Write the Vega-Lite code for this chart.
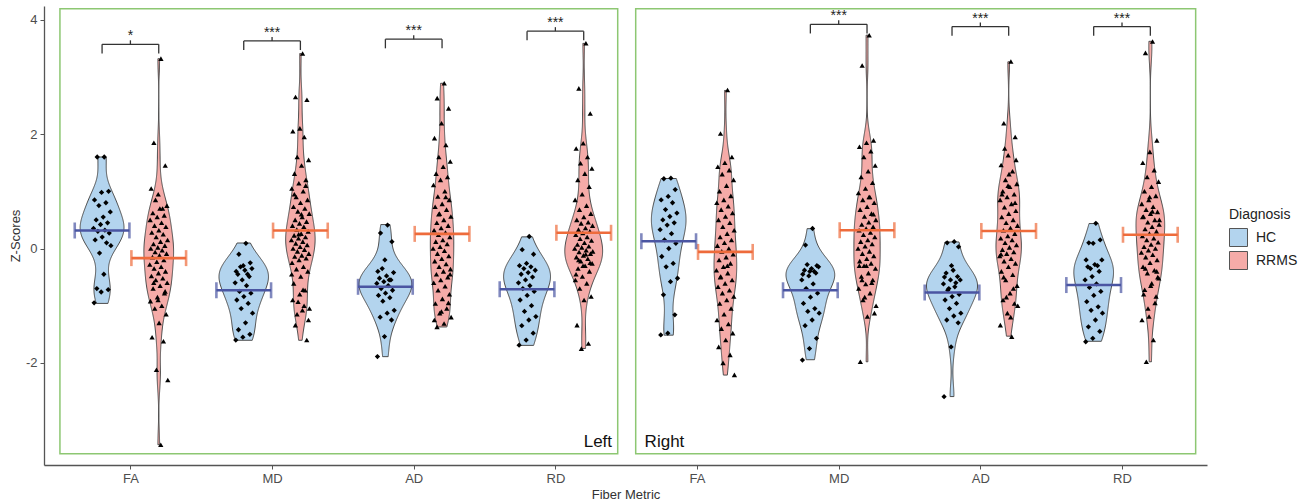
{
"$schema":"https://vega.github.io/schema/vega-lite/v6.json",
"width":1163,"height":459,
"autosize":{"type":"none"},
"padding":{"left":44,"top":6,"right":100,"bottom":38},
"background":"white",
"datasets":{
"brackets":[
{"side":"Left","metric":"FA","yb":3.57,"label":"*"},
{"side":"Left","metric":"MD","yb":3.63,"label":"***"},
{"side":"Left","metric":"AD","yb":3.66,"label":"***"},
{"side":"Left","metric":"RD","yb":3.8,"label":"***"},
{"side":"Right","metric":"MD","yb":3.92,"label":"***"},
{"side":"Right","metric":"AD","yb":3.88,"label":"***"},
{"side":"Right","metric":"RD","yb":3.88,"label":"***"}
]},
"data":{"values":[
{"side":"Left","metric":"FA","dx":"HC","z":1.6},{"side":"Left","metric":"FA","dx":"HC","z":1.6},{"side":"Left","metric":"FA","dx":"HC","z":1.0},{"side":"Left","metric":"FA","dx":"HC","z":0.98},{"side":"Left","metric":"FA","dx":"HC","z":0.85},{"side":"Left","metric":"FA","dx":"HC","z":0.8},{"side":"Left","metric":"FA","dx":"HC","z":0.75},{"side":"Left","metric":"FA","dx":"HC","z":0.64},{"side":"Left","metric":"FA","dx":"HC","z":0.55},{"side":"Left","metric":"FA","dx":"HC","z":0.5},{"side":"Left","metric":"FA","dx":"HC","z":0.45},{"side":"Left","metric":"FA","dx":"HC","z":0.42},{"side":"Left","metric":"FA","dx":"HC","z":0.35},{"side":"Left","metric":"FA","dx":"HC","z":0.32},{"side":"Left","metric":"FA","dx":"HC","z":0.3},{"side":"Left","metric":"FA","dx":"HC","z":0.27},{"side":"Left","metric":"FA","dx":"HC","z":0.2},{"side":"Left","metric":"FA","dx":"HC","z":0.15},{"side":"Left","metric":"FA","dx":"HC","z":0.1},{"side":"Left","metric":"FA","dx":"HC","z":-0.08},{"side":"Left","metric":"FA","dx":"HC","z":0.05},{"side":"Left","metric":"FA","dx":"HC","z":-0.45},{"side":"Left","metric":"FA","dx":"HC","z":-0.7},{"side":"Left","metric":"FA","dx":"HC","z":-0.72},{"side":"Left","metric":"FA","dx":"HC","z":-0.76},{"side":"Left","metric":"FA","dx":"HC","z":-0.95},
{"side":"Left","metric":"FA","dx":"RRMS","z":3.32},{"side":"Left","metric":"FA","dx":"RRMS","z":1.85},{"side":"Left","metric":"FA","dx":"RRMS","z":1.45},{"side":"Left","metric":"FA","dx":"RRMS","z":0.95},{"side":"Left","metric":"FA","dx":"RRMS","z":1.05},{"side":"Left","metric":"FA","dx":"RRMS","z":0.7},{"side":"Left","metric":"FA","dx":"RRMS","z":0.85},{"side":"Left","metric":"FA","dx":"RRMS","z":0.75},{"side":"Left","metric":"FA","dx":"RRMS","z":0.7},{"side":"Left","metric":"FA","dx":"RRMS","z":0.62},{"side":"Left","metric":"FA","dx":"RRMS","z":0.58},{"side":"Left","metric":"FA","dx":"RRMS","z":0.55},{"side":"Left","metric":"FA","dx":"RRMS","z":0.5},{"side":"Left","metric":"FA","dx":"RRMS","z":0.45},{"side":"Left","metric":"FA","dx":"RRMS","z":0.4},{"side":"Left","metric":"FA","dx":"RRMS","z":0.38},{"side":"Left","metric":"FA","dx":"RRMS","z":0.32},{"side":"Left","metric":"FA","dx":"RRMS","z":0.28},{"side":"Left","metric":"FA","dx":"RRMS","z":0.25},{"side":"Left","metric":"FA","dx":"RRMS","z":0.2},{"side":"Left","metric":"FA","dx":"RRMS","z":0.15},{"side":"Left","metric":"FA","dx":"RRMS","z":0.12},{"side":"Left","metric":"FA","dx":"RRMS","z":0.08},{"side":"Left","metric":"FA","dx":"RRMS","z":0.05},{"side":"Left","metric":"FA","dx":"RRMS","z":0.02},{"side":"Left","metric":"FA","dx":"RRMS","z":0.0},{"side":"Left","metric":"FA","dx":"RRMS","z":-0.03},{"side":"Left","metric":"FA","dx":"RRMS","z":-0.06},{"side":"Left","metric":"FA","dx":"RRMS","z":-0.09},{"side":"Left","metric":"FA","dx":"RRMS","z":-0.12},{"side":"Left","metric":"FA","dx":"RRMS","z":-0.15},{"side":"Left","metric":"FA","dx":"RRMS","z":-0.2},{"side":"Left","metric":"FA","dx":"RRMS","z":-0.23},{"side":"Left","metric":"FA","dx":"RRMS","z":-0.28},{"side":"Left","metric":"FA","dx":"RRMS","z":-0.32},{"side":"Left","metric":"FA","dx":"RRMS","z":-0.35},{"side":"Left","metric":"FA","dx":"RRMS","z":-0.4},{"side":"Left","metric":"FA","dx":"RRMS","z":-0.43},{"side":"Left","metric":"FA","dx":"RRMS","z":-0.48},{"side":"Left","metric":"FA","dx":"RRMS","z":-0.52},{"side":"Left","metric":"FA","dx":"RRMS","z":-0.55},{"side":"Left","metric":"FA","dx":"RRMS","z":-0.6},{"side":"Left","metric":"FA","dx":"RRMS","z":-0.65},{"side":"Left","metric":"FA","dx":"RRMS","z":-0.7},{"side":"Left","metric":"FA","dx":"RRMS","z":-0.78},{"side":"Left","metric":"FA","dx":"RRMS","z":-0.85},{"side":"Left","metric":"FA","dx":"RRMS","z":-0.92},{"side":"Left","metric":"FA","dx":"RRMS","z":-1.0},{"side":"Left","metric":"FA","dx":"RRMS","z":-1.05},{"side":"Left","metric":"FA","dx":"RRMS","z":-1.15},{"side":"Left","metric":"FA","dx":"RRMS","z":-1.3},{"side":"Left","metric":"FA","dx":"RRMS","z":-1.55},{"side":"Left","metric":"FA","dx":"RRMS","z":-1.62},{"side":"Left","metric":"FA","dx":"RRMS","z":-2.12},{"side":"Left","metric":"FA","dx":"RRMS","z":-2.3},{"side":"Left","metric":"FA","dx":"RRMS","z":-3.43},{"side":"Left","metric":"FA","dx":"RRMS","z":-0.6},{"side":"Left","metric":"FA","dx":"RRMS","z":-0.75},{"side":"Left","metric":"FA","dx":"RRMS","z":-0.9},
{"side":"Left","metric":"MD","dx":"HC","z":0.09},{"side":"Left","metric":"MD","dx":"HC","z":-0.1},{"side":"Left","metric":"MD","dx":"HC","z":-0.25},{"side":"Left","metric":"MD","dx":"HC","z":-0.3},{"side":"Left","metric":"MD","dx":"HC","z":-0.4},{"side":"Left","metric":"MD","dx":"HC","z":-0.45},{"side":"Left","metric":"MD","dx":"HC","z":-0.32},{"side":"Left","metric":"MD","dx":"HC","z":-0.35},{"side":"Left","metric":"MD","dx":"HC","z":-0.38},{"side":"Left","metric":"MD","dx":"HC","z":-0.45},{"side":"Left","metric":"MD","dx":"HC","z":-0.49},{"side":"Left","metric":"MD","dx":"HC","z":-0.55},{"side":"Left","metric":"MD","dx":"HC","z":-0.6},{"side":"Left","metric":"MD","dx":"HC","z":-0.65},{"side":"Left","metric":"MD","dx":"HC","z":-0.75},{"side":"Left","metric":"MD","dx":"HC","z":-0.78},{"side":"Left","metric":"MD","dx":"HC","z":-0.84},{"side":"Left","metric":"MD","dx":"HC","z":-0.9},{"side":"Left","metric":"MD","dx":"HC","z":-0.96},{"side":"Left","metric":"MD","dx":"HC","z":-1.05},{"side":"Left","metric":"MD","dx":"HC","z":-1.13},{"side":"Left","metric":"MD","dx":"HC","z":-1.3},{"side":"Left","metric":"MD","dx":"HC","z":-1.42},{"side":"Left","metric":"MD","dx":"HC","z":-1.5},{"side":"Left","metric":"MD","dx":"HC","z":-1.55},{"side":"Left","metric":"MD","dx":"HC","z":-1.6},
{"side":"Left","metric":"MD","dx":"RRMS","z":3.41},{"side":"Left","metric":"MD","dx":"RRMS","z":2.65},{"side":"Left","metric":"MD","dx":"RRMS","z":2.6},{"side":"Left","metric":"MD","dx":"RRMS","z":2.1},{"side":"Left","metric":"MD","dx":"RRMS","z":2.05},{"side":"Left","metric":"MD","dx":"RRMS","z":1.95},{"side":"Left","metric":"MD","dx":"RRMS","z":1.6},{"side":"Left","metric":"MD","dx":"RRMS","z":1.55},{"side":"Left","metric":"MD","dx":"RRMS","z":1.45},{"side":"Left","metric":"MD","dx":"RRMS","z":1.31},{"side":"Left","metric":"MD","dx":"RRMS","z":1.2},{"side":"Left","metric":"MD","dx":"RRMS","z":1.14},{"side":"Left","metric":"MD","dx":"RRMS","z":1.05},{"side":"Left","metric":"MD","dx":"RRMS","z":1.0},{"side":"Left","metric":"MD","dx":"RRMS","z":0.9},{"side":"Left","metric":"MD","dx":"RRMS","z":0.85},{"side":"Left","metric":"MD","dx":"RRMS","z":0.8},{"side":"Left","metric":"MD","dx":"RRMS","z":0.73},{"side":"Left","metric":"MD","dx":"RRMS","z":0.7},{"side":"Left","metric":"MD","dx":"RRMS","z":0.65},{"side":"Left","metric":"MD","dx":"RRMS","z":0.61},{"side":"Left","metric":"MD","dx":"RRMS","z":0.55},{"side":"Left","metric":"MD","dx":"RRMS","z":0.5},{"side":"Left","metric":"MD","dx":"RRMS","z":0.47},{"side":"Left","metric":"MD","dx":"RRMS","z":0.44},{"side":"Left","metric":"MD","dx":"RRMS","z":0.4},{"side":"Left","metric":"MD","dx":"RRMS","z":0.38},{"side":"Left","metric":"MD","dx":"RRMS","z":0.33},{"side":"Left","metric":"MD","dx":"RRMS","z":0.3},{"side":"Left","metric":"MD","dx":"RRMS","z":0.26},{"side":"Left","metric":"MD","dx":"RRMS","z":0.23},{"side":"Left","metric":"MD","dx":"RRMS","z":0.2},{"side":"Left","metric":"MD","dx":"RRMS","z":0.18},{"side":"Left","metric":"MD","dx":"RRMS","z":0.15},{"side":"Left","metric":"MD","dx":"RRMS","z":0.12},{"side":"Left","metric":"MD","dx":"RRMS","z":0.09},{"side":"Left","metric":"MD","dx":"RRMS","z":0.06},{"side":"Left","metric":"MD","dx":"RRMS","z":0.03},{"side":"Left","metric":"MD","dx":"RRMS","z":0.0},{"side":"Left","metric":"MD","dx":"RRMS","z":-0.02},{"side":"Left","metric":"MD","dx":"RRMS","z":-0.05},{"side":"Left","metric":"MD","dx":"RRMS","z":-0.09},{"side":"Left","metric":"MD","dx":"RRMS","z":-0.12},{"side":"Left","metric":"MD","dx":"RRMS","z":-0.14},{"side":"Left","metric":"MD","dx":"RRMS","z":-0.17},{"side":"Left","metric":"MD","dx":"RRMS","z":-0.2},{"side":"Left","metric":"MD","dx":"RRMS","z":-0.25},{"side":"Left","metric":"MD","dx":"RRMS","z":-0.32},{"side":"Left","metric":"MD","dx":"RRMS","z":-0.36},{"side":"Left","metric":"MD","dx":"RRMS","z":-0.4},{"side":"Left","metric":"MD","dx":"RRMS","z":-0.49},{"side":"Left","metric":"MD","dx":"RRMS","z":-0.61},{"side":"Left","metric":"MD","dx":"RRMS","z":-0.73},{"side":"Left","metric":"MD","dx":"RRMS","z":-0.93},{"side":"Left","metric":"MD","dx":"RRMS","z":-1.05},{"side":"Left","metric":"MD","dx":"RRMS","z":-1.08},{"side":"Left","metric":"MD","dx":"RRMS","z":-1.34},{"side":"Left","metric":"MD","dx":"RRMS","z":-1.6},{"side":"Left","metric":"MD","dx":"RRMS","z":-0.8},{"side":"Left","metric":"MD","dx":"RRMS","z":-0.9},{"side":"Left","metric":"MD","dx":"RRMS","z":-1.0},{"side":"Left","metric":"MD","dx":"RRMS","z":-1.15},{"side":"Left","metric":"MD","dx":"RRMS","z":-1.25},{"side":"Left","metric":"MD","dx":"RRMS","z":0.6},{"side":"Left","metric":"MD","dx":"RRMS","z":0.95},{"side":"Left","metric":"MD","dx":"RRMS","z":1.1},{"side":"Left","metric":"MD","dx":"RRMS","z":0.25},{"side":"Left","metric":"MD","dx":"RRMS","z":-0.45},{"side":"Left","metric":"MD","dx":"RRMS","z":-0.72},
{"side":"Left","metric":"AD","dx":"HC","z":0.41},{"side":"Left","metric":"AD","dx":"HC","z":0.27},{"side":"Left","metric":"AD","dx":"HC","z":0.12},{"side":"Left","metric":"AD","dx":"HC","z":-0.2},{"side":"Left","metric":"AD","dx":"HC","z":-0.4},{"side":"Left","metric":"AD","dx":"HC","z":-0.55},{"side":"Left","metric":"AD","dx":"HC","z":-0.35},{"side":"Left","metric":"AD","dx":"HC","z":-0.42},{"side":"Left","metric":"AD","dx":"HC","z":-0.48},{"side":"Left","metric":"AD","dx":"HC","z":-0.52},{"side":"Left","metric":"AD","dx":"HC","z":-0.55},{"side":"Left","metric":"AD","dx":"HC","z":-0.58},{"side":"Left","metric":"AD","dx":"HC","z":-0.61},{"side":"Left","metric":"AD","dx":"HC","z":-0.65},{"side":"Left","metric":"AD","dx":"HC","z":-0.7},{"side":"Left","metric":"AD","dx":"HC","z":-0.73},{"side":"Left","metric":"AD","dx":"HC","z":-0.78},{"side":"Left","metric":"AD","dx":"HC","z":-0.82},{"side":"Left","metric":"AD","dx":"HC","z":-0.86},{"side":"Left","metric":"AD","dx":"HC","z":-0.92},{"side":"Left","metric":"AD","dx":"HC","z":-1.08},{"side":"Left","metric":"AD","dx":"HC","z":-1.13},{"side":"Left","metric":"AD","dx":"HC","z":-1.2},{"side":"Left","metric":"AD","dx":"HC","z":-1.25},{"side":"Left","metric":"AD","dx":"HC","z":-1.54},{"side":"Left","metric":"AD","dx":"HC","z":-1.89},
{"side":"Left","metric":"AD","dx":"RRMS","z":2.89},{"side":"Left","metric":"AD","dx":"RRMS","z":2.63},{"side":"Left","metric":"AD","dx":"RRMS","z":2.45},{"side":"Left","metric":"AD","dx":"RRMS","z":2.19},{"side":"Left","metric":"AD","dx":"RRMS","z":1.93},{"side":"Left","metric":"AD","dx":"RRMS","z":1.81},{"side":"Left","metric":"AD","dx":"RRMS","z":1.6},{"side":"Left","metric":"AD","dx":"RRMS","z":1.52},{"side":"Left","metric":"AD","dx":"RRMS","z":1.43},{"side":"Left","metric":"AD","dx":"RRMS","z":1.31},{"side":"Left","metric":"AD","dx":"RRMS","z":1.25},{"side":"Left","metric":"AD","dx":"RRMS","z":1.2},{"side":"Left","metric":"AD","dx":"RRMS","z":1.11},{"side":"Left","metric":"AD","dx":"RRMS","z":1.0},{"side":"Left","metric":"AD","dx":"RRMS","z":0.91},{"side":"Left","metric":"AD","dx":"RRMS","z":0.85},{"side":"Left","metric":"AD","dx":"RRMS","z":0.78},{"side":"Left","metric":"AD","dx":"RRMS","z":0.73},{"side":"Left","metric":"AD","dx":"RRMS","z":0.68},{"side":"Left","metric":"AD","dx":"RRMS","z":0.61},{"side":"Left","metric":"AD","dx":"RRMS","z":0.56},{"side":"Left","metric":"AD","dx":"RRMS","z":0.5},{"side":"Left","metric":"AD","dx":"RRMS","z":0.45},{"side":"Left","metric":"AD","dx":"RRMS","z":0.4},{"side":"Left","metric":"AD","dx":"RRMS","z":0.36},{"side":"Left","metric":"AD","dx":"RRMS","z":0.32},{"side":"Left","metric":"AD","dx":"RRMS","z":0.28},{"side":"Left","metric":"AD","dx":"RRMS","z":0.24},{"side":"Left","metric":"AD","dx":"RRMS","z":0.2},{"side":"Left","metric":"AD","dx":"RRMS","z":0.15},{"side":"Left","metric":"AD","dx":"RRMS","z":0.12},{"side":"Left","metric":"AD","dx":"RRMS","z":0.08},{"side":"Left","metric":"AD","dx":"RRMS","z":0.03},{"side":"Left","metric":"AD","dx":"RRMS","z":0.0},{"side":"Left","metric":"AD","dx":"RRMS","z":-0.04},{"side":"Left","metric":"AD","dx":"RRMS","z":-0.09},{"side":"Left","metric":"AD","dx":"RRMS","z":-0.13},{"side":"Left","metric":"AD","dx":"RRMS","z":-0.18},{"side":"Left","metric":"AD","dx":"RRMS","z":-0.22},{"side":"Left","metric":"AD","dx":"RRMS","z":-0.27},{"side":"Left","metric":"AD","dx":"RRMS","z":-0.32},{"side":"Left","metric":"AD","dx":"RRMS","z":-0.36},{"side":"Left","metric":"AD","dx":"RRMS","z":-0.4},{"side":"Left","metric":"AD","dx":"RRMS","z":-0.45},{"side":"Left","metric":"AD","dx":"RRMS","z":-0.5},{"side":"Left","metric":"AD","dx":"RRMS","z":-0.55},{"side":"Left","metric":"AD","dx":"RRMS","z":-0.6},{"side":"Left","metric":"AD","dx":"RRMS","z":-0.66},{"side":"Left","metric":"AD","dx":"RRMS","z":-0.73},{"side":"Left","metric":"AD","dx":"RRMS","z":-0.8},{"side":"Left","metric":"AD","dx":"RRMS","z":-0.88},{"side":"Left","metric":"AD","dx":"RRMS","z":-0.96},{"side":"Left","metric":"AD","dx":"RRMS","z":-1.05},{"side":"Left","metric":"AD","dx":"RRMS","z":-1.13},{"side":"Left","metric":"AD","dx":"RRMS","z":-1.2},{"side":"Left","metric":"AD","dx":"RRMS","z":-1.31},{"side":"Left","metric":"AD","dx":"RRMS","z":-1.37},{"side":"Left","metric":"AD","dx":"RRMS","z":-0.95},{"side":"Left","metric":"AD","dx":"RRMS","z":-1.1},{"side":"Left","metric":"AD","dx":"RRMS","z":-1.25},{"side":"Left","metric":"AD","dx":"RRMS","z":0.9},{"side":"Left","metric":"AD","dx":"RRMS","z":0.6},{"side":"Left","metric":"AD","dx":"RRMS","z":-0.45},
{"side":"Left","metric":"RD","dx":"HC","z":0.21},{"side":"Left","metric":"RD","dx":"HC","z":-0.02},{"side":"Left","metric":"RD","dx":"HC","z":-0.1},{"side":"Left","metric":"RD","dx":"HC","z":-0.26},{"side":"Left","metric":"RD","dx":"HC","z":-0.3},{"side":"Left","metric":"RD","dx":"HC","z":-0.32},{"side":"Left","metric":"RD","dx":"HC","z":-0.35},{"side":"Left","metric":"RD","dx":"HC","z":-0.38},{"side":"Left","metric":"RD","dx":"HC","z":-0.42},{"side":"Left","metric":"RD","dx":"HC","z":-0.45},{"side":"Left","metric":"RD","dx":"HC","z":-0.5},{"side":"Left","metric":"RD","dx":"HC","z":-0.55},{"side":"Left","metric":"RD","dx":"HC","z":-0.6},{"side":"Left","metric":"RD","dx":"HC","z":-0.65},{"side":"Left","metric":"RD","dx":"HC","z":-0.7},{"side":"Left","metric":"RD","dx":"HC","z":-0.75},{"side":"Left","metric":"RD","dx":"HC","z":-0.82},{"side":"Left","metric":"RD","dx":"HC","z":-0.9},{"side":"Left","metric":"RD","dx":"HC","z":-1.0},{"side":"Left","metric":"RD","dx":"HC","z":-1.1},{"side":"Left","metric":"RD","dx":"HC","z":-1.19},{"side":"Left","metric":"RD","dx":"HC","z":-1.25},{"side":"Left","metric":"RD","dx":"HC","z":-1.35},{"side":"Left","metric":"RD","dx":"HC","z":-1.48},{"side":"Left","metric":"RD","dx":"HC","z":-1.6},{"side":"Left","metric":"RD","dx":"HC","z":-1.69},
{"side":"Left","metric":"RD","dx":"RRMS","z":3.59},{"side":"Left","metric":"RD","dx":"RRMS","z":2.8},{"side":"Left","metric":"RD","dx":"RRMS","z":2.36},{"side":"Left","metric":"RD","dx":"RRMS","z":1.84},{"side":"Left","metric":"RD","dx":"RRMS","z":1.75},{"side":"Left","metric":"RD","dx":"RRMS","z":1.6},{"side":"Left","metric":"RD","dx":"RRMS","z":1.49},{"side":"Left","metric":"RD","dx":"RRMS","z":1.4},{"side":"Left","metric":"RD","dx":"RRMS","z":1.31},{"side":"Left","metric":"RD","dx":"RRMS","z":1.2},{"side":"Left","metric":"RD","dx":"RRMS","z":1.08},{"side":"Left","metric":"RD","dx":"RRMS","z":0.95},{"side":"Left","metric":"RD","dx":"RRMS","z":0.85},{"side":"Left","metric":"RD","dx":"RRMS","z":0.75},{"side":"Left","metric":"RD","dx":"RRMS","z":0.68},{"side":"Left","metric":"RD","dx":"RRMS","z":0.61},{"side":"Left","metric":"RD","dx":"RRMS","z":0.55},{"side":"Left","metric":"RD","dx":"RRMS","z":0.5},{"side":"Left","metric":"RD","dx":"RRMS","z":0.46},{"side":"Left","metric":"RD","dx":"RRMS","z":0.44},{"side":"Left","metric":"RD","dx":"RRMS","z":0.4},{"side":"Left","metric":"RD","dx":"RRMS","z":0.36},{"side":"Left","metric":"RD","dx":"RRMS","z":0.33},{"side":"Left","metric":"RD","dx":"RRMS","z":0.3},{"side":"Left","metric":"RD","dx":"RRMS","z":0.27},{"side":"Left","metric":"RD","dx":"RRMS","z":0.24},{"side":"Left","metric":"RD","dx":"RRMS","z":0.2},{"side":"Left","metric":"RD","dx":"RRMS","z":0.17},{"side":"Left","metric":"RD","dx":"RRMS","z":0.14},{"side":"Left","metric":"RD","dx":"RRMS","z":0.1},{"side":"Left","metric":"RD","dx":"RRMS","z":0.07},{"side":"Left","metric":"RD","dx":"RRMS","z":0.04},{"side":"Left","metric":"RD","dx":"RRMS","z":0.02},{"side":"Left","metric":"RD","dx":"RRMS","z":0.0},{"side":"Left","metric":"RD","dx":"RRMS","z":-0.03},{"side":"Left","metric":"RD","dx":"RRMS","z":-0.06},{"side":"Left","metric":"RD","dx":"RRMS","z":-0.09},{"side":"Left","metric":"RD","dx":"RRMS","z":-0.12},{"side":"Left","metric":"RD","dx":"RRMS","z":-0.15},{"side":"Left","metric":"RD","dx":"RRMS","z":-0.18},{"side":"Left","metric":"RD","dx":"RRMS","z":-0.22},{"side":"Left","metric":"RD","dx":"RRMS","z":-0.26},{"side":"Left","metric":"RD","dx":"RRMS","z":-0.3},{"side":"Left","metric":"RD","dx":"RRMS","z":-0.35},{"side":"Left","metric":"RD","dx":"RRMS","z":-0.4},{"side":"Left","metric":"RD","dx":"RRMS","z":-0.49},{"side":"Left","metric":"RD","dx":"RRMS","z":-0.55},{"side":"Left","metric":"RD","dx":"RRMS","z":-0.61},{"side":"Left","metric":"RD","dx":"RRMS","z":-0.7},{"side":"Left","metric":"RD","dx":"RRMS","z":-0.84},{"side":"Left","metric":"RD","dx":"RRMS","z":-0.9},{"side":"Left","metric":"RD","dx":"RRMS","z":-1.34},{"side":"Left","metric":"RD","dx":"RRMS","z":-1.66},{"side":"Left","metric":"RD","dx":"RRMS","z":-1.75},{"side":"Left","metric":"RD","dx":"RRMS","z":-0.05},{"side":"Left","metric":"RD","dx":"RRMS","z":-0.1},{"side":"Left","metric":"RD","dx":"RRMS","z":-0.2},{"side":"Left","metric":"RD","dx":"RRMS","z":-0.25},{"side":"Left","metric":"RD","dx":"RRMS","z":-0.3},{"side":"Left","metric":"RD","dx":"RRMS","z":-0.45},
{"side":"Right","metric":"FA","dx":"HC","z":1.23},{"side":"Right","metric":"FA","dx":"HC","z":1.22},{"side":"Right","metric":"FA","dx":"HC","z":1.03},{"side":"Right","metric":"FA","dx":"HC","z":0.91},{"side":"Right","metric":"FA","dx":"HC","z":0.85},{"side":"Right","metric":"FA","dx":"HC","z":0.8},{"side":"Right","metric":"FA","dx":"HC","z":0.68},{"side":"Right","metric":"FA","dx":"HC","z":0.62},{"side":"Right","metric":"FA","dx":"HC","z":0.56},{"side":"Right","metric":"FA","dx":"HC","z":0.5},{"side":"Right","metric":"FA","dx":"HC","z":0.45},{"side":"Right","metric":"FA","dx":"HC","z":0.41},{"side":"Right","metric":"FA","dx":"HC","z":0.33},{"side":"Right","metric":"FA","dx":"HC","z":0.26},{"side":"Right","metric":"FA","dx":"HC","z":0.15},{"side":"Right","metric":"FA","dx":"HC","z":0.09},{"side":"Right","metric":"FA","dx":"HC","z":0.0},{"side":"Right","metric":"FA","dx":"HC","z":-0.14},{"side":"Right","metric":"FA","dx":"HC","z":-0.26},{"side":"Right","metric":"FA","dx":"HC","z":-0.32},{"side":"Right","metric":"FA","dx":"HC","z":-0.52},{"side":"Right","metric":"FA","dx":"HC","z":-0.58},{"side":"Right","metric":"FA","dx":"HC","z":-0.81},{"side":"Right","metric":"FA","dx":"HC","z":-1.16},{"side":"Right","metric":"FA","dx":"HC","z":-1.48},{"side":"Right","metric":"FA","dx":"HC","z":-1.51},
{"side":"Right","metric":"FA","dx":"RRMS","z":2.77},{"side":"Right","metric":"FA","dx":"RRMS","z":2.01},{"side":"Right","metric":"FA","dx":"RRMS","z":1.6},{"side":"Right","metric":"FA","dx":"RRMS","z":1.5},{"side":"Right","metric":"FA","dx":"RRMS","z":1.43},{"side":"Right","metric":"FA","dx":"RRMS","z":1.37},{"side":"Right","metric":"FA","dx":"RRMS","z":1.3},{"side":"Right","metric":"FA","dx":"RRMS","z":1.2},{"side":"Right","metric":"FA","dx":"RRMS","z":1.1},{"side":"Right","metric":"FA","dx":"RRMS","z":1.0},{"side":"Right","metric":"FA","dx":"RRMS","z":0.92},{"side":"Right","metric":"FA","dx":"RRMS","z":0.85},{"side":"Right","metric":"FA","dx":"RRMS","z":0.8},{"side":"Right","metric":"FA","dx":"RRMS","z":0.74},{"side":"Right","metric":"FA","dx":"RRMS","z":0.68},{"side":"Right","metric":"FA","dx":"RRMS","z":0.62},{"side":"Right","metric":"FA","dx":"RRMS","z":0.56},{"side":"Right","metric":"FA","dx":"RRMS","z":0.5},{"side":"Right","metric":"FA","dx":"RRMS","z":0.45},{"side":"Right","metric":"FA","dx":"RRMS","z":0.38},{"side":"Right","metric":"FA","dx":"RRMS","z":0.32},{"side":"Right","metric":"FA","dx":"RRMS","z":0.26},{"side":"Right","metric":"FA","dx":"RRMS","z":0.2},{"side":"Right","metric":"FA","dx":"RRMS","z":0.15},{"side":"Right","metric":"FA","dx":"RRMS","z":0.1},{"side":"Right","metric":"FA","dx":"RRMS","z":0.05},{"side":"Right","metric":"FA","dx":"RRMS","z":0.0},{"side":"Right","metric":"FA","dx":"RRMS","z":-0.05},{"side":"Right","metric":"FA","dx":"RRMS","z":-0.1},{"side":"Right","metric":"FA","dx":"RRMS","z":-0.15},{"side":"Right","metric":"FA","dx":"RRMS","z":-0.2},{"side":"Right","metric":"FA","dx":"RRMS","z":-0.26},{"side":"Right","metric":"FA","dx":"RRMS","z":-0.32},{"side":"Right","metric":"FA","dx":"RRMS","z":-0.38},{"side":"Right","metric":"FA","dx":"RRMS","z":-0.43},{"side":"Right","metric":"FA","dx":"RRMS","z":-0.49},{"side":"Right","metric":"FA","dx":"RRMS","z":-0.55},{"side":"Right","metric":"FA","dx":"RRMS","z":-0.61},{"side":"Right","metric":"FA","dx":"RRMS","z":-0.67},{"side":"Right","metric":"FA","dx":"RRMS","z":-0.73},{"side":"Right","metric":"FA","dx":"RRMS","z":-0.78},{"side":"Right","metric":"FA","dx":"RRMS","z":-0.84},{"side":"Right","metric":"FA","dx":"RRMS","z":-0.9},{"side":"Right","metric":"FA","dx":"RRMS","z":-0.96},{"side":"Right","metric":"FA","dx":"RRMS","z":-1.05},{"side":"Right","metric":"FA","dx":"RRMS","z":-1.15},{"side":"Right","metric":"FA","dx":"RRMS","z":-1.25},{"side":"Right","metric":"FA","dx":"RRMS","z":-1.32},{"side":"Right","metric":"FA","dx":"RRMS","z":-1.4},{"side":"Right","metric":"FA","dx":"RRMS","z":-1.48},{"side":"Right","metric":"FA","dx":"RRMS","z":-1.6},{"side":"Right","metric":"FA","dx":"RRMS","z":-1.72},{"side":"Right","metric":"FA","dx":"RRMS","z":-1.86},{"side":"Right","metric":"FA","dx":"RRMS","z":-2.0},{"side":"Right","metric":"FA","dx":"RRMS","z":-2.21},{"side":"Right","metric":"FA","dx":"RRMS","z":-0.3},{"side":"Right","metric":"FA","dx":"RRMS","z":-0.5},
{"side":"Right","metric":"MD","dx":"HC","z":0.35},{"side":"Right","metric":"MD","dx":"HC","z":0.06},{"side":"Right","metric":"MD","dx":"HC","z":-0.3},{"side":"Right","metric":"MD","dx":"HC","z":-0.4},{"side":"Right","metric":"MD","dx":"HC","z":-0.45},{"side":"Right","metric":"MD","dx":"HC","z":-0.4},{"side":"Right","metric":"MD","dx":"HC","z":-0.28},{"side":"Right","metric":"MD","dx":"HC","z":-0.32},{"side":"Right","metric":"MD","dx":"HC","z":-0.35},{"side":"Right","metric":"MD","dx":"HC","z":-0.38},{"side":"Right","metric":"MD","dx":"HC","z":-0.43},{"side":"Right","metric":"MD","dx":"HC","z":-0.48},{"side":"Right","metric":"MD","dx":"HC","z":-0.55},{"side":"Right","metric":"MD","dx":"HC","z":-0.62},{"side":"Right","metric":"MD","dx":"HC","z":-0.7},{"side":"Right","metric":"MD","dx":"HC","z":-0.78},{"side":"Right","metric":"MD","dx":"HC","z":-0.85},{"side":"Right","metric":"MD","dx":"HC","z":-0.96},{"side":"Right","metric":"MD","dx":"HC","z":-1.05},{"side":"Right","metric":"MD","dx":"HC","z":-1.1},{"side":"Right","metric":"MD","dx":"HC","z":-1.13},{"side":"Right","metric":"MD","dx":"HC","z":-1.25},{"side":"Right","metric":"MD","dx":"HC","z":-1.35},{"side":"Right","metric":"MD","dx":"HC","z":-1.57},{"side":"Right","metric":"MD","dx":"HC","z":-1.75},{"side":"Right","metric":"MD","dx":"HC","z":-1.95},
{"side":"Right","metric":"MD","dx":"RRMS","z":3.73},{"side":"Right","metric":"MD","dx":"RRMS","z":3.2},{"side":"Right","metric":"MD","dx":"RRMS","z":1.89},{"side":"Right","metric":"MD","dx":"RRMS","z":1.85},{"side":"Right","metric":"MD","dx":"RRMS","z":1.78},{"side":"Right","metric":"MD","dx":"RRMS","z":1.7},{"side":"Right","metric":"MD","dx":"RRMS","z":1.6},{"side":"Right","metric":"MD","dx":"RRMS","z":1.45},{"side":"Right","metric":"MD","dx":"RRMS","z":1.35},{"side":"Right","metric":"MD","dx":"RRMS","z":1.25},{"side":"Right","metric":"MD","dx":"RRMS","z":1.15},{"side":"Right","metric":"MD","dx":"RRMS","z":1.05},{"side":"Right","metric":"MD","dx":"RRMS","z":0.97},{"side":"Right","metric":"MD","dx":"RRMS","z":0.9},{"side":"Right","metric":"MD","dx":"RRMS","z":0.85},{"side":"Right","metric":"MD","dx":"RRMS","z":0.8},{"side":"Right","metric":"MD","dx":"RRMS","z":0.73},{"side":"Right","metric":"MD","dx":"RRMS","z":0.68},{"side":"Right","metric":"MD","dx":"RRMS","z":0.61},{"side":"Right","metric":"MD","dx":"RRMS","z":0.56},{"side":"Right","metric":"MD","dx":"RRMS","z":0.5},{"side":"Right","metric":"MD","dx":"RRMS","z":0.46},{"side":"Right","metric":"MD","dx":"RRMS","z":0.42},{"side":"Right","metric":"MD","dx":"RRMS","z":0.38},{"side":"Right","metric":"MD","dx":"RRMS","z":0.35},{"side":"Right","metric":"MD","dx":"RRMS","z":0.32},{"side":"Right","metric":"MD","dx":"RRMS","z":0.28},{"side":"Right","metric":"MD","dx":"RRMS","z":0.24},{"side":"Right","metric":"MD","dx":"RRMS","z":0.2},{"side":"Right","metric":"MD","dx":"RRMS","z":0.15},{"side":"Right","metric":"MD","dx":"RRMS","z":0.12},{"side":"Right","metric":"MD","dx":"RRMS","z":0.08},{"side":"Right","metric":"MD","dx":"RRMS","z":0.04},{"side":"Right","metric":"MD","dx":"RRMS","z":0.0},{"side":"Right","metric":"MD","dx":"RRMS","z":-0.05},{"side":"Right","metric":"MD","dx":"RRMS","z":-0.09},{"side":"Right","metric":"MD","dx":"RRMS","z":-0.13},{"side":"Right","metric":"MD","dx":"RRMS","z":-0.18},{"side":"Right","metric":"MD","dx":"RRMS","z":-0.22},{"side":"Right","metric":"MD","dx":"RRMS","z":-0.26},{"side":"Right","metric":"MD","dx":"RRMS","z":-0.3},{"side":"Right","metric":"MD","dx":"RRMS","z":-0.35},{"side":"Right","metric":"MD","dx":"RRMS","z":-0.43},{"side":"Right","metric":"MD","dx":"RRMS","z":-0.49},{"side":"Right","metric":"MD","dx":"RRMS","z":-0.55},{"side":"Right","metric":"MD","dx":"RRMS","z":-0.62},{"side":"Right","metric":"MD","dx":"RRMS","z":-0.7},{"side":"Right","metric":"MD","dx":"RRMS","z":-0.78},{"side":"Right","metric":"MD","dx":"RRMS","z":-0.9},{"side":"Right","metric":"MD","dx":"RRMS","z":-1.13},{"side":"Right","metric":"MD","dx":"RRMS","z":-1.19},{"side":"Right","metric":"MD","dx":"RRMS","z":-1.98},{"side":"Right","metric":"MD","dx":"RRMS","z":-0.6},{"side":"Right","metric":"MD","dx":"RRMS","z":-0.85},{"side":"Right","metric":"MD","dx":"RRMS","z":-1.0},{"side":"Right","metric":"MD","dx":"RRMS","z":0.9},{"side":"Right","metric":"MD","dx":"RRMS","z":-0.55},{"side":"Right","metric":"MD","dx":"RRMS","z":0.6},{"side":"Right","metric":"MD","dx":"RRMS","z":-0.3},{"side":"Right","metric":"MD","dx":"RRMS","z":-0.3},
{"side":"Right","metric":"AD","dx":"HC","z":0.12},{"side":"Right","metric":"AD","dx":"HC","z":0.1},{"side":"Right","metric":"AD","dx":"HC","z":0.03},{"side":"Right","metric":"AD","dx":"HC","z":-0.3},{"side":"Right","metric":"AD","dx":"HC","z":-0.5},{"side":"Right","metric":"AD","dx":"HC","z":-0.6},{"side":"Right","metric":"AD","dx":"HC","z":-0.7},{"side":"Right","metric":"AD","dx":"HC","z":-0.55},{"side":"Right","metric":"AD","dx":"HC","z":-0.38},{"side":"Right","metric":"AD","dx":"HC","z":-0.43},{"side":"Right","metric":"AD","dx":"HC","z":-0.49},{"side":"Right","metric":"AD","dx":"HC","z":-0.55},{"side":"Right","metric":"AD","dx":"HC","z":-0.62},{"side":"Right","metric":"AD","dx":"HC","z":-0.67},{"side":"Right","metric":"AD","dx":"HC","z":-0.73},{"side":"Right","metric":"AD","dx":"HC","z":-0.8},{"side":"Right","metric":"AD","dx":"HC","z":-0.84},{"side":"Right","metric":"AD","dx":"HC","z":-0.9},{"side":"Right","metric":"AD","dx":"HC","z":-0.96},{"side":"Right","metric":"AD","dx":"HC","z":-1.05},{"side":"Right","metric":"AD","dx":"HC","z":-1.13},{"side":"Right","metric":"AD","dx":"HC","z":-1.18},{"side":"Right","metric":"AD","dx":"HC","z":-1.25},{"side":"Right","metric":"AD","dx":"HC","z":-1.3},{"side":"Right","metric":"AD","dx":"HC","z":-1.72},{"side":"Right","metric":"AD","dx":"HC","z":-2.59},
{"side":"Right","metric":"AD","dx":"RRMS","z":3.27},{"side":"Right","metric":"AD","dx":"RRMS","z":2.19},{"side":"Right","metric":"AD","dx":"RRMS","z":1.95},{"side":"Right","metric":"AD","dx":"RRMS","z":1.63},{"side":"Right","metric":"AD","dx":"RRMS","z":1.46},{"side":"Right","metric":"AD","dx":"RRMS","z":1.35},{"side":"Right","metric":"AD","dx":"RRMS","z":1.2},{"side":"Right","metric":"AD","dx":"RRMS","z":1.13},{"side":"Right","metric":"AD","dx":"RRMS","z":1.08},{"side":"Right","metric":"AD","dx":"RRMS","z":1.0},{"side":"Right","metric":"AD","dx":"RRMS","z":0.95},{"side":"Right","metric":"AD","dx":"RRMS","z":0.9},{"side":"Right","metric":"AD","dx":"RRMS","z":0.85},{"side":"Right","metric":"AD","dx":"RRMS","z":0.78},{"side":"Right","metric":"AD","dx":"RRMS","z":0.72},{"side":"Right","metric":"AD","dx":"RRMS","z":0.66},{"side":"Right","metric":"AD","dx":"RRMS","z":0.61},{"side":"Right","metric":"AD","dx":"RRMS","z":0.55},{"side":"Right","metric":"AD","dx":"RRMS","z":0.5},{"side":"Right","metric":"AD","dx":"RRMS","z":0.45},{"side":"Right","metric":"AD","dx":"RRMS","z":0.4},{"side":"Right","metric":"AD","dx":"RRMS","z":0.36},{"side":"Right","metric":"AD","dx":"RRMS","z":0.32},{"side":"Right","metric":"AD","dx":"RRMS","z":0.26},{"side":"Right","metric":"AD","dx":"RRMS","z":0.22},{"side":"Right","metric":"AD","dx":"RRMS","z":0.18},{"side":"Right","metric":"AD","dx":"RRMS","z":0.15},{"side":"Right","metric":"AD","dx":"RRMS","z":0.1},{"side":"Right","metric":"AD","dx":"RRMS","z":0.06},{"side":"Right","metric":"AD","dx":"RRMS","z":0.02},{"side":"Right","metric":"AD","dx":"RRMS","z":-0.02},{"side":"Right","metric":"AD","dx":"RRMS","z":-0.06},{"side":"Right","metric":"AD","dx":"RRMS","z":-0.09},{"side":"Right","metric":"AD","dx":"RRMS","z":-0.13},{"side":"Right","metric":"AD","dx":"RRMS","z":-0.18},{"side":"Right","metric":"AD","dx":"RRMS","z":-0.22},{"side":"Right","metric":"AD","dx":"RRMS","z":-0.26},{"side":"Right","metric":"AD","dx":"RRMS","z":-0.32},{"side":"Right","metric":"AD","dx":"RRMS","z":-0.4},{"side":"Right","metric":"AD","dx":"RRMS","z":-0.46},{"side":"Right","metric":"AD","dx":"RRMS","z":-0.55},{"side":"Right","metric":"AD","dx":"RRMS","z":-0.65},{"side":"Right","metric":"AD","dx":"RRMS","z":-0.78},{"side":"Right","metric":"AD","dx":"RRMS","z":-0.9},{"side":"Right","metric":"AD","dx":"RRMS","z":-0.96},{"side":"Right","metric":"AD","dx":"RRMS","z":-1.13},{"side":"Right","metric":"AD","dx":"RRMS","z":-1.34},{"side":"Right","metric":"AD","dx":"RRMS","z":-1.54},{"side":"Right","metric":"AD","dx":"RRMS","z":1.75},{"side":"Right","metric":"AD","dx":"RRMS","z":1.55},{"side":"Right","metric":"AD","dx":"RRMS","z":1.3},{"side":"Right","metric":"AD","dx":"RRMS","z":0.95},{"side":"Right","metric":"AD","dx":"RRMS","z":-0.7},{"side":"Right","metric":"AD","dx":"RRMS","z":-0.85},{"side":"Right","metric":"AD","dx":"RRMS","z":-1.0},{"side":"Right","metric":"AD","dx":"RRMS","z":-1.2},{"side":"Right","metric":"AD","dx":"RRMS","z":-0.5},{"side":"Right","metric":"AD","dx":"RRMS","z":0.8},{"side":"Right","metric":"AD","dx":"RRMS","z":1.1},{"side":"Right","metric":"AD","dx":"RRMS","z":-0.1},
{"side":"Right","metric":"RD","dx":"HC","z":0.44},{"side":"Right","metric":"RD","dx":"HC","z":0.1},{"side":"Right","metric":"RD","dx":"HC","z":0.15},{"side":"Right","metric":"RD","dx":"HC","z":0.09},{"side":"Right","metric":"RD","dx":"HC","z":-0.2},{"side":"Right","metric":"RD","dx":"HC","z":-0.3},{"side":"Right","metric":"RD","dx":"HC","z":-0.35},{"side":"Right","metric":"RD","dx":"HC","z":-0.2},{"side":"Right","metric":"RD","dx":"HC","z":-0.28},{"side":"Right","metric":"RD","dx":"HC","z":-0.32},{"side":"Right","metric":"RD","dx":"HC","z":-0.4},{"side":"Right","metric":"RD","dx":"HC","z":-0.49},{"side":"Right","metric":"RD","dx":"HC","z":-0.55},{"side":"Right","metric":"RD","dx":"HC","z":-0.62},{"side":"Right","metric":"RD","dx":"HC","z":-0.68},{"side":"Right","metric":"RD","dx":"HC","z":-0.75},{"side":"Right","metric":"RD","dx":"HC","z":-0.82},{"side":"Right","metric":"RD","dx":"HC","z":-0.93},{"side":"Right","metric":"RD","dx":"HC","z":-1.02},{"side":"Right","metric":"RD","dx":"HC","z":-1.08},{"side":"Right","metric":"RD","dx":"HC","z":-1.13},{"side":"Right","metric":"RD","dx":"HC","z":-1.25},{"side":"Right","metric":"RD","dx":"HC","z":-1.37},{"side":"Right","metric":"RD","dx":"HC","z":-1.45},{"side":"Right","metric":"RD","dx":"HC","z":-1.57},{"side":"Right","metric":"RD","dx":"HC","z":-1.63},
{"side":"Right","metric":"RD","dx":"RRMS","z":3.62},{"side":"Right","metric":"RD","dx":"RRMS","z":3.42},{"side":"Right","metric":"RD","dx":"RRMS","z":1.89},{"side":"Right","metric":"RD","dx":"RRMS","z":1.69},{"side":"Right","metric":"RD","dx":"RRMS","z":1.5},{"side":"Right","metric":"RD","dx":"RRMS","z":1.37},{"side":"Right","metric":"RD","dx":"RRMS","z":1.25},{"side":"Right","metric":"RD","dx":"RRMS","z":1.17},{"side":"Right","metric":"RD","dx":"RRMS","z":1.08},{"side":"Right","metric":"RD","dx":"RRMS","z":1.0},{"side":"Right","metric":"RD","dx":"RRMS","z":0.92},{"side":"Right","metric":"RD","dx":"RRMS","z":0.85},{"side":"Right","metric":"RD","dx":"RRMS","z":0.78},{"side":"Right","metric":"RD","dx":"RRMS","z":0.73},{"side":"Right","metric":"RD","dx":"RRMS","z":0.68},{"side":"Right","metric":"RD","dx":"RRMS","z":0.64},{"side":"Right","metric":"RD","dx":"RRMS","z":0.61},{"side":"Right","metric":"RD","dx":"RRMS","z":0.56},{"side":"Right","metric":"RD","dx":"RRMS","z":0.5},{"side":"Right","metric":"RD","dx":"RRMS","z":0.46},{"side":"Right","metric":"RD","dx":"RRMS","z":0.42},{"side":"Right","metric":"RD","dx":"RRMS","z":0.38},{"side":"Right","metric":"RD","dx":"RRMS","z":0.34},{"side":"Right","metric":"RD","dx":"RRMS","z":0.3},{"side":"Right","metric":"RD","dx":"RRMS","z":0.26},{"side":"Right","metric":"RD","dx":"RRMS","z":0.22},{"side":"Right","metric":"RD","dx":"RRMS","z":0.18},{"side":"Right","metric":"RD","dx":"RRMS","z":0.15},{"side":"Right","metric":"RD","dx":"RRMS","z":0.11},{"side":"Right","metric":"RD","dx":"RRMS","z":0.07},{"side":"Right","metric":"RD","dx":"RRMS","z":0.03},{"side":"Right","metric":"RD","dx":"RRMS","z":0.0},{"side":"Right","metric":"RD","dx":"RRMS","z":-0.03},{"side":"Right","metric":"RD","dx":"RRMS","z":-0.07},{"side":"Right","metric":"RD","dx":"RRMS","z":-0.11},{"side":"Right","metric":"RD","dx":"RRMS","z":-0.15},{"side":"Right","metric":"RD","dx":"RRMS","z":-0.2},{"side":"Right","metric":"RD","dx":"RRMS","z":-0.25},{"side":"Right","metric":"RD","dx":"RRMS","z":-0.32},{"side":"Right","metric":"RD","dx":"RRMS","z":-0.38},{"side":"Right","metric":"RD","dx":"RRMS","z":-0.43},{"side":"Right","metric":"RD","dx":"RRMS","z":-0.52},{"side":"Right","metric":"RD","dx":"RRMS","z":-0.61},{"side":"Right","metric":"RD","dx":"RRMS","z":-0.72},{"side":"Right","metric":"RD","dx":"RRMS","z":-0.84},{"side":"Right","metric":"RD","dx":"RRMS","z":-1.19},{"side":"Right","metric":"RD","dx":"RRMS","z":-1.25},{"side":"Right","metric":"RD","dx":"RRMS","z":-1.6},{"side":"Right","metric":"RD","dx":"RRMS","z":-1.98},{"side":"Right","metric":"RD","dx":"RRMS","z":-0.5},{"side":"Right","metric":"RD","dx":"RRMS","z":-0.65},{"side":"Right","metric":"RD","dx":"RRMS","z":-0.8},{"side":"Right","metric":"RD","dx":"RRMS","z":-0.95},{"side":"Right","metric":"RD","dx":"RRMS","z":-1.05},{"side":"Right","metric":"RD","dx":"RRMS","z":0.5},{"side":"Right","metric":"RD","dx":"RRMS","z":0.65},{"side":"Right","metric":"RD","dx":"RRMS","z":-0.35},{"side":"Right","metric":"RD","dx":"RRMS","z":-0.4},{"side":"Right","metric":"RD","dx":"RRMS","z":0.9},{"side":"Right","metric":"RD","dx":"RRMS","z":0.55}
]},
"layer":[
{"data":{"values":[{"panel":"Left"}]},
 "mark":{"type":"rect","fill":null,"stroke":"#8DC772","strokeWidth":1.5},
 "encoding":{
  "x":{"datum":0.5025,"type":"quantitative","scale":{"domain":[0.39,8.6],"nice":false,"zero":false},"title":"Fiber Metric"},
  "x2":{"datum":4.44},
  "y":{"datum":-3.59,"type":"quantitative","scale":{"domain":[-3.785,4.24],"nice":false,"zero":false},"title":"Z-Scores"},
  "y2":{"datum":4.19}}},
{"data":{"values":[{"panel":"Right"}]},
 "mark":{"type":"rect","fill":null,"stroke":"#8DC772","strokeWidth":1.5},
 "encoding":{
  "x":{"datum":4.567,"type":"quantitative","scale":{"domain":[0.39,8.6],"nice":false,"zero":false},"title":"Fiber Metric"},
  "x2":{"datum":8.52},
  "y":{"datum":-3.59,"type":"quantitative","scale":{"domain":[-3.785,4.24],"nice":false,"zero":false},"title":"Z-Scores"},
  "y2":{"datum":4.19}}},
{"transform":[
  {"joinaggregate":[{"op":"min","field":"z","as":"zmin"},{"op":"max","field":"z","as":"zmax"}],"groupby":["side","metric","dx"]},
  {"density":"z","groupby":["side","metric","dx","zmin","zmax"],"bandwidth":0.25,"steps":400,"as":["value","density"]},
  {"filter":"datum.value >= datum.zmin - 0.01 && datum.value <= datum.zmax + 0.01"},
  {"calculate":"indexof(['FA','MD','AD','RD'], datum.metric) + 1 + (datum.side === 'Right' ? 4 : 0) + (datum.dx === 'HC' ? -0.2 : 0.2)","as":"pos"},
  {"calculate":"datum.pos - 0.22*datum.density","as":"xl"},
  {"calculate":"datum.pos + 0.22*datum.density","as":"xr"}],
 "mark":{"type":"area","orient":"horizontal","stroke":"#4D4D4D","strokeWidth":1,"opacity":1},
 "encoding":{
  "y":{"field":"value","type":"quantitative","scale":{"domain":[-3.785,4.24],"nice":false,"zero":false},"title":"Z-Scores","axis":{"values":[-2,0,2,4],"labelExpr":"'' + datum.value","grid":false}},
  "x":{"field":"xl","type":"quantitative","scale":{"domain":[0.39,8.6],"nice":false,"zero":false},"title":"Fiber Metric","axis":{"values":[1,2,3,4,5,6,7,8],"labelExpr":"['FA','MD','AD','RD'][(datum.value-1)%4]","grid":false}},
  "x2":{"field":"xr"},
  "color":{"field":"dx","type":"nominal","scale":{"domain":["HC","RRMS"],"range":["#B3D4EE","#F5ABA8"]},"legend":{"title":"Diagnosis","symbolType":"square"}},
  "detail":[{"field":"side"},{"field":"metric"}]}},
{"transform":[
  {"window":[{"op":"row_number","as":"rn"}],"groupby":["side","metric","dx"]},
  {"calculate":"indexof(['FA','MD','AD','RD'], datum.metric) + 1 + (datum.side === 'Right' ? 4 : 0) + (datum.dx === 'HC' ? -0.2 : 0.2)","as":"pos"},
  {"calculate":"datum.pos + ((datum.rn*0.618034)%1 - 0.5)*0.13","as":"px"},
  {"calculate":"datum.dx === 'HC' ? 'diamond' : 'triangle-up'","as":"ptype"}],
 "mark":{"type":"point","filled":true,"color":"black","size":28,"opacity":1},
 "encoding":{
  "x":{"field":"px","type":"quantitative","scale":{"domain":[0.39,8.6],"nice":false,"zero":false},"title":"Fiber Metric"},
  "y":{"field":"z","type":"quantitative","scale":{"domain":[-3.785,4.24],"nice":false,"zero":false},"title":"Z-Scores"},
  "shape":{"field":"ptype","type":"nominal","scale":null,"legend":null}}},
{"transform":[
  {"aggregate":[{"op":"mean","field":"z","as":"m"}],"groupby":["side","metric","dx"]},
  {"calculate":"indexof(['FA','MD','AD','RD'], datum.metric) + 1 + (datum.side === 'Right' ? 4 : 0) + (datum.dx === 'HC' ? -0.2 : 0.2)","as":"pos"},
  {"calculate":"datum.pos - 0.193","as":"bl"},
  {"calculate":"datum.pos + 0.193","as":"br"}],
 "layer":[
  {"mark":{"type":"rule","strokeWidth":2.6},
   "encoding":{
    "x":{"field":"bl","type":"quantitative","scale":{"domain":[0.39,8.6],"nice":false,"zero":false},"title":"Fiber Metric"},
    "x2":{"field":"br"},
    "y":{"field":"m","type":"quantitative","scale":{"domain":[-3.785,4.24],"nice":false,"zero":false},"title":"Z-Scores"},
    "color":{"condition":{"test":"datum.dx === 'HC'","value":"#4A55A2"},"value":"#EE6B3B"}}},
  {"mark":{"type":"tick","orient":"vertical","size":16,"thickness":2.6},
   "encoding":{
    "x":{"field":"bl","type":"quantitative","scale":{"domain":[0.39,8.6],"nice":false,"zero":false},"title":"Fiber Metric"},
    "y":{"field":"m","type":"quantitative","scale":{"domain":[-3.785,4.24],"nice":false,"zero":false},"title":"Z-Scores"},
    "color":{"condition":{"test":"datum.dx === 'HC'","value":"#4A55A2"},"value":"#EE6B3B"}}},
  {"mark":{"type":"tick","orient":"vertical","size":16,"thickness":2.6},
   "encoding":{
    "x":{"field":"br","type":"quantitative","scale":{"domain":[0.39,8.6],"nice":false,"zero":false},"title":"Fiber Metric"},
    "y":{"field":"m","type":"quantitative","scale":{"domain":[-3.785,4.24],"nice":false,"zero":false},"title":"Z-Scores"},
    "color":{"condition":{"test":"datum.dx === 'HC'","value":"#4A55A2"},"value":"#EE6B3B"}}}
 ]},
{"data":{"name":"brackets"},
 "transform":[
  {"calculate":"indexof(['FA','MD','AD','RD'], datum.metric) + 1 + (datum.side === 'Right' ? 4 : 0)","as":"c"},
  {"calculate":"datum.c - 0.2","as":"kl"},
  {"calculate":"datum.c + 0.2","as":"kr"},
  {"calculate":"datum.yb - 0.16","as":"ylo"},
  {"calculate":"datum.yb + 0.07","as":"yhi"}],
 "layer":[
  {"mark":{"type":"rule","color":"#333333","strokeWidth":1.3},
   "encoding":{
    "x":{"field":"kl","type":"quantitative","scale":{"domain":[0.39,8.6],"nice":false,"zero":false},"title":"Fiber Metric"},
    "x2":{"field":"kr"},
    "y":{"field":"yb","type":"quantitative","scale":{"domain":[-3.785,4.24],"nice":false,"zero":false},"title":"Z-Scores"}}},
  {"mark":{"type":"rule","color":"#333333","strokeWidth":1.3},
   "encoding":{
    "x":{"field":"kl","type":"quantitative","scale":{"domain":[0.39,8.6],"nice":false,"zero":false},"title":"Fiber Metric"},
    "y":{"field":"yb","type":"quantitative","scale":{"domain":[-3.785,4.24],"nice":false,"zero":false},"title":"Z-Scores"},
    "y2":{"field":"ylo"}}},
  {"mark":{"type":"rule","color":"#333333","strokeWidth":1.3},
   "encoding":{
    "x":{"field":"kr","type":"quantitative","scale":{"domain":[0.39,8.6],"nice":false,"zero":false},"title":"Fiber Metric"},
    "y":{"field":"yb","type":"quantitative","scale":{"domain":[-3.785,4.24],"nice":false,"zero":false},"title":"Z-Scores"},
    "y2":{"field":"ylo"}}},
  {"mark":{"type":"rule","color":"#333333","strokeWidth":1.3},
   "encoding":{
    "x":{"field":"c","type":"quantitative","scale":{"domain":[0.39,8.6],"nice":false,"zero":false},"title":"Fiber Metric"},
    "y":{"field":"yb","type":"quantitative","scale":{"domain":[-3.785,4.24],"nice":false,"zero":false},"title":"Z-Scores"},
    "y2":{"field":"yhi"}}},
  {"mark":{"type":"text","fontSize":14,"color":"#222222","baseline":"alphabetic","align":"center"},
   "encoding":{
    "x":{"field":"c","type":"quantitative","scale":{"domain":[0.39,8.6],"nice":false,"zero":false},"title":"Fiber Metric"},
    "y":{"field":"yhi","type":"quantitative","scale":{"domain":[-3.785,4.24],"nice":false,"zero":false},"title":"Z-Scores"},
    "text":{"field":"label"}}}
 ]},
{"data":{"values":[{"panel":"Left"}]},
 "mark":{"type":"text","fontSize":17,"color":"#111111","align":"right","baseline":"alphabetic"},
 "encoding":{
  "x":{"datum":4.4,"type":"quantitative","scale":{"domain":[0.39,8.6],"nice":false,"zero":false},"title":"Fiber Metric"},
  "y":{"datum":-3.47,"type":"quantitative","scale":{"domain":[-3.785,4.24],"nice":false,"zero":false},"title":"Z-Scores"},
  "text":{"field":"panel"}}},
{"data":{"values":[{"panel":"Right"}]},
 "mark":{"type":"text","fontSize":17,"color":"#111111","align":"left","baseline":"alphabetic"},
 "encoding":{
  "x":{"datum":4.63,"type":"quantitative","scale":{"domain":[0.39,8.6],"nice":false,"zero":false},"title":"Fiber Metric"},
  "y":{"datum":-3.47,"type":"quantitative","scale":{"domain":[-3.785,4.24],"nice":false,"zero":false},"title":"Z-Scores"},
  "text":{"field":"panel"}}}
],
"config":{
 "font":"Liberation Sans",
 "view":{"stroke":null},
 "axis":{"grid":false,"domainColor":"#555555","domainWidth":1.3,"tickColor":"#555555","tickSize":4,"tickWidth":1,"labelColor":"#4D4D4D","labelFontSize":13,"labelPadding":3,"titleFontSize":13,"titleFontWeight":"normal","titleColor":"#333333","titlePadding":3,"labelFont":"Liberation Sans","titleFont":"Liberation Sans"},
 "legend":{"orient":"none","legendX":1185,"legendY":202,"padding":0,"titleFontSize":14,"titleFontWeight":"normal","titleColor":"#222222","titlePadding":6,"labelFontSize":14,"labelColor":"#222222","labelOffset":8,"symbolType":"square","symbolSize":324,"symbolStrokeColor":"#555555","symbolStrokeWidth":1,"symbolOpacity":1,"rowPadding":0}
}
}
